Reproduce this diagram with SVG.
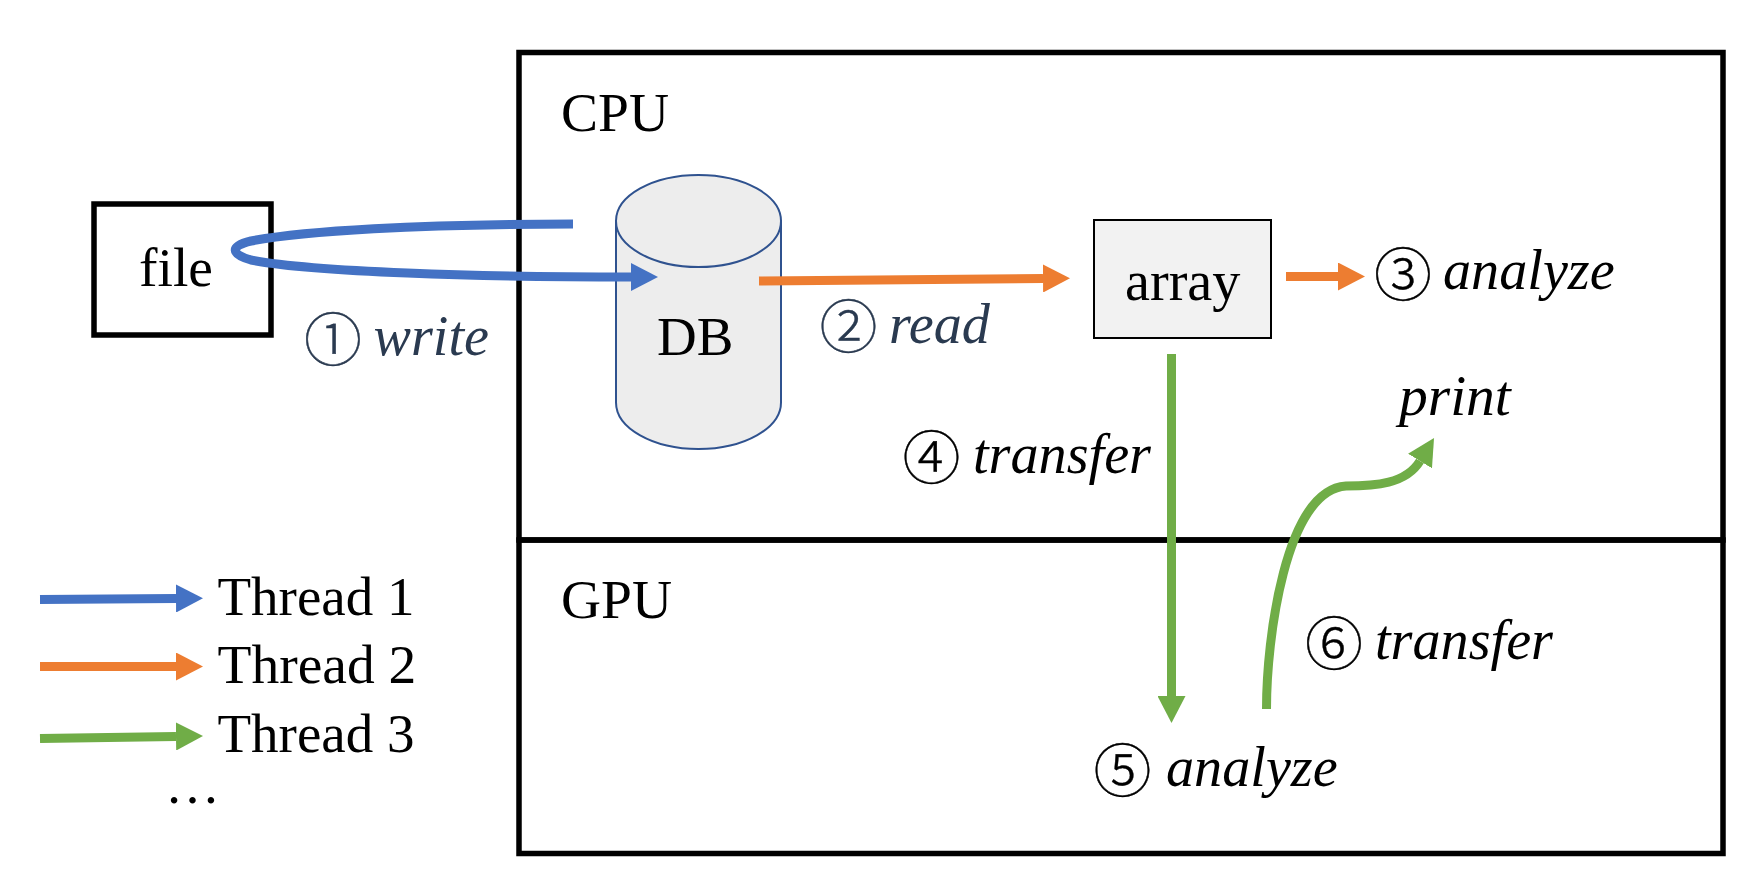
<svg xmlns="http://www.w3.org/2000/svg" width="1757" height="896" viewBox="0 0 1757 896">
  <style>
    text { font-family: "Liberation Serif", "Times New Roman", serif; font-size: 55px; fill: #000; }
    .it { font-style: italic; font-size: 56.200px; }
    .num { font-family: "Noto Sans CJK JP", "DejaVu Sans", sans-serif; font-style: normal; font-weight: 300; font-size: 58px; text-anchor: middle; stroke: #000; stroke-width: 0.4; }
    .slate, .slate tspan { fill: #2A3A50; stroke: none; }
    .slate .num { stroke: #2A3A50; stroke-width: 0.4; }
    .frame { fill: none; stroke: #000; stroke-width: 5.5; }
    .c { fill: none; stroke-width: 9; }
    .blue { stroke: #4472C4; }
    .orange { stroke: #ED7D31; }
    .green { stroke: #70AD47; }
    .db { fill: #EDEDED; stroke: #2F528F; stroke-width: 2; }
  </style>
  <defs>
    <marker id="hb" markerUnits="userSpaceOnUse" markerWidth="27" markerHeight="28" refX="0" refY="14" orient="auto"><path d="M0 0L27 14L0 28Z" fill="#4472C4"/></marker>
    <marker id="ho" markerUnits="userSpaceOnUse" markerWidth="27" markerHeight="28" refX="0" refY="14" orient="auto"><path d="M0 0L27 14L0 28Z" fill="#ED7D31"/></marker>
    <marker id="hg" markerUnits="userSpaceOnUse" markerWidth="27" markerHeight="28" refX="0" refY="14" orient="auto"><path d="M0 0L27 14L0 28Z" fill="#70AD47"/></marker>
  </defs>

  <g id="cpu">
    <rect class="frame" x="519" y="52.500" width="1204" height="487.500"/>
    <text x="561" y="131" style="font-size:55.500px">CPU</text>
  </g>
  <g id="gpu">
    <rect class="frame" x="519" y="540" width="1204" height="313.500"/>
    <text x="561" y="618" style="font-size:55.500px">GPU</text>
  </g>
  <g id="file">
    <rect class="frame" x="94" y="204" width="177" height="131"/>
    <text x="139" y="286" style="font-size:55.500px">file</text>
  </g>
  <g id="db">
    <path class="db" d="M616 221V402.500A82.500 46.500 0 0 0 781 402.500V221Z"/>
    <ellipse class="db" cx="698.500" cy="221" rx="82.500" ry="46"/>
    <text x="657" y="355" style="font-size:55px">DB</text>
  </g>
  <g id="array">
    <rect x="1094" y="220" width="177" height="118" fill="#F2F2F2" stroke="#000" stroke-width="2"/>
    <text x="1125" y="300" style="font-size:56.200px">array</text>
  </g>

  <g id="connectors">
    <path class="c blue" marker-end="url(#hb)" d="M573 224C420 224 302 231 251 241C230 246 230 254 251 260C312 272 480 277 631 277"/>
    <path class="c orange" marker-end="url(#ho)" d="M759 281L1043 278.500"/>
    <path class="c orange" marker-end="url(#ho)" d="M1286 276.500L1338 276.500"/>
    <path class="c green" marker-end="url(#hg)" d="M1171.500 354V696"/>
    <path class="c green" marker-end="url(#hg)" d="M1266.500 709C1266.500 640 1285 490 1346 486C1375 486 1406 484 1420 461"/>
    <path class="c blue" marker-end="url(#hb)" d="M40 599.500L176 598.500"/>
    <path class="c orange" marker-end="url(#ho)" d="M40 666.500H176"/>
    <path class="c green" marker-end="url(#hg)" d="M40 738.500L176 736.500"/>
  </g>

  <g id="labels">
    <text class="slate"><tspan class="num" x="333" y="361">①</tspan><tspan class="it" x="373.500" y="355">write</tspan></text>
    <text class="slate"><tspan class="num" x="848.500" y="348">②</tspan><tspan class="it" x="889" y="343">read</tspan></text>
    <text><tspan class="num" x="1403" y="295.500">③</tspan><tspan class="it" x="1443" y="289">analyze</tspan></text>
    <text><tspan class="num" x="931.500" y="478.500">④</tspan><tspan class="it" x="973" y="473">transfer</tspan></text>
    <text class="it" x="1399" y="415" style="font-size:57.500px">print</text>
    <text><tspan class="num" x="1122.500" y="791.500">⑤</tspan><tspan class="it" x="1166" y="786">analyze</tspan></text>
    <text><tspan class="num" x="1334" y="664.500">⑥</tspan><tspan class="it" x="1375" y="659">transfer</tspan></text>
  </g>

  <g id="legend">
    <text x="217.500" y="615">Thread 1</text>
    <text x="217.500" y="683" style="font-size:55.500px">Thread 2</text>
    <text x="217.500" y="752">Thread 3</text>
    <text x="165" y="803">…</text>
  </g>
</svg>
